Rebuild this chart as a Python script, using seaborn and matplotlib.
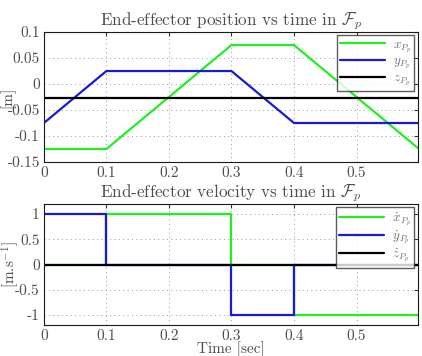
import numpy as np
import matplotlib
matplotlib.use("Agg")
import matplotlib.pyplot as plt
import seaborn as sns

# keyframes of the trajectory (time in sec)
t_pos = [0.0, 0.1, 0.3, 0.4, 0.598]
x_pos = [-0.125, -0.125, 0.075, 0.075, -0.123]
y_pos = [-0.075, 0.025, 0.025, -0.075, -0.075]
z_pos = [-0.027, -0.027, -0.027, -0.027, -0.027]

# piecewise-constant velocities (value holds from each time on)
t_vel = [0.0, 0.1, 0.3, 0.4, 0.598]
x_vel = [0, 1, 0, -1, -1]
y_vel = [1, 0, -1, 0, 0]
z_vel = [0, 0, 0, 0, 0]

x_ticks = [0, 0.1, 0.2, 0.3, 0.4, 0.5]
x_ticklabels = ["0", "0.1", "0.2", "0.3", "0.4", "0.5"]
pos_ticks = [-0.15, -0.1, -0.05, 0, 0.05, 0.1]
pos_ticklabels = ["-0.15", "-0.1", "-0.05", "0", "0.05", "0.1"]
vel_ticks = [-1, -0.5, 0, 0.5, 1]
vel_ticklabels = ["-1", "-0.5", "0", "0.5", "1"]

GREEN = "#22ee22"
BLUE = "#1a1ad6"
BLACK = "#000000"
TXT = "0.3"

sns.set_style("white")
plt.rcParams["font.family"] = ["cmr10", "DejaVu Serif"]
plt.rcParams["mathtext.fontset"] = "cm"
plt.rcParams["axes.unicode_minus"] = False

fig = plt.figure(figsize=(4.22, 3.56), dpi=100)
ax1 = fig.add_axes([0.104, 0.545, 0.886, 0.365])
ax2 = fig.add_axes([0.104, 0.087, 0.886, 0.340])


def style_axes(ax):
    ax.set_xlim(0, 0.598)
    ax.set_xticks(x_ticks)
    ax.set_xticklabels(x_ticklabels)
    ax.grid(True, linestyle=(0, (1, 3.5)), color="0.6", linewidth=0.7)
    ax.tick_params(direction="in", top=True, right=True, length=3,
                   labelsize=11, labelcolor=TXT, color="0.2", pad=3)
    for sp in ax.spines.values():
        sp.set_color("0.1")
        sp.set_linewidth(0.8)


# position
sns.lineplot(x=t_pos, y=x_pos, ax=ax1, color=GREEN, lw=1.6, sort=False, label=r"$x_{P_p}$")
sns.lineplot(x=t_pos, y=y_pos, ax=ax1, color=BLUE, lw=1.6, sort=False, label=r"$y_{P_p}$")
sns.lineplot(x=t_pos, y=z_pos, ax=ax1, color=BLACK, lw=1.6, sort=False, label=r"$z_{P_p}$")
style_axes(ax1)
ax1.set_ylim(-0.15, 0.1)
ax1.set_yticks(pos_ticks)
ax1.set_yticklabels(pos_ticklabels)
ax1.set_title(r"End-effector position vs time in $\mathcal{F}_p$", fontsize=12.3, color=TXT, pad=5)
ax1.set_ylabel("[m]", fontsize=11, color=TXT, labelpad=-6)

# velocity
sns.lineplot(x=t_vel, y=x_vel, ax=ax2, color=GREEN, lw=1.6, sort=False,
             drawstyle="steps-post", label=r"$\dot{x}_{P_p}$")
sns.lineplot(x=t_vel, y=y_vel, ax=ax2, color=BLUE, lw=1.6, sort=False,
             drawstyle="steps-post", label=r"$\dot{y}_{P_p}$")
sns.lineplot(x=t_vel, y=z_vel, ax=ax2, color=BLACK, lw=1.6, sort=False,
             drawstyle="steps-post", label=r"$\dot{z}_{P_p}$")
style_axes(ax2)
ax2.set_ylim(-1.2, 1.2)
ax2.set_yticks(vel_ticks)
ax2.set_yticklabels(vel_ticklabels)
ax2.set_title(r"End-effector velocity vs time in $\mathcal{F}_p$", fontsize=12.3, color=TXT, pad=5)
ax2.set_ylabel(r"[m.s$^{-1}$]", fontsize=11, color=TXT, labelpad=-4)
ax2.set_xlabel("Time [sec]", fontsize=11, color=TXT, labelpad=-1)

for ax in (ax1, ax2):
    leg = ax.legend(loc="upper right", fontsize=9.5, handlelength=3.4, frameon=True,
                    fancybox=False, edgecolor="0.2", borderaxespad=0.25,
                    labelspacing=0.05, handletextpad=0.6, borderpad=0.25)
    leg.get_frame().set_linewidth(1.0)
    for txt in leg.get_texts():
        txt.set_color("0.45")

fig.savefig("out.png", dpi=100)
